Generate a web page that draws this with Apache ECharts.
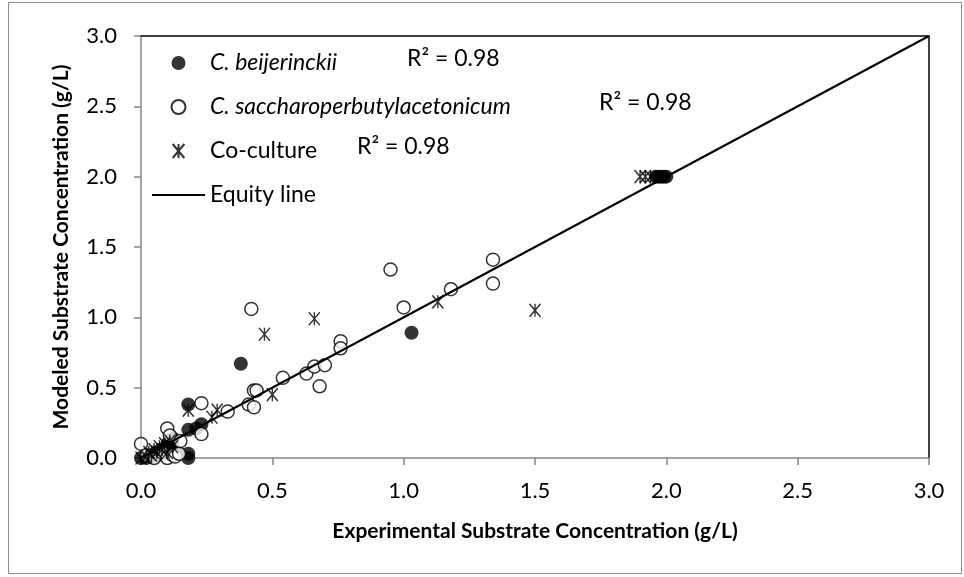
<!DOCTYPE html>
<html>
<head>
<meta charset="utf-8">
<title>Modeled vs experimental substrate concentration</title>
<script src="https://cdn.jsdelivr.net/npm/echarts@6/dist/echarts.min.js"></script>
<style>
  html, body { margin: 0; padding: 0; background: #fff; }
  #chart { width: 964px; height: 577px; }
</style>
</head>
<body>
<div id="chart"></div>
<script>
// Experimental (x) vs modeled (y) substrate concentration, g/L
const beijerinckiiPts = [
  [0.00, 0.00], [0.02, 0.00], [0.04, 0.01], [0.05, 0.03], [0.06, 0.02],
  [0.07, 0.05], [0.08, 0.03], [0.09, 0.07], [0.10, 0.05], [0.10, 0.10],
  [0.11, 0.10], [0.12, 0.12], [0.12, 0.14], [0.13, 0.05], [0.18, 0.00],
  [0.18, 0.03], [0.18, 0.20], [0.21, 0.21], [0.23, 0.24], [0.18, 0.38],
  [0.38, 0.67], [1.03, 0.89], [1.96, 2.00], [1.97, 2.00], [1.98, 2.00],
  [1.99, 2.00], [2.00, 2.00]
];
const saccharoPts = [
  [0.00, 0.10], [0.02, 0.02], [0.05, 0.00], [0.08, 0.04], [0.10, 0.00],
  [0.10, 0.21], [0.11, 0.16], [0.12, 0.02], [0.13, 0.01], [0.145, 0.03],
  [0.15, 0.12], [0.23, 0.39], [0.23, 0.17], [0.33, 0.33], [0.41, 0.38],
  [0.43, 0.36], [0.43, 0.48], [0.44, 0.48], [0.54, 0.57], [0.63, 0.60],
  [0.66, 0.65], [0.70, 0.66], [0.68, 0.51], [0.76, 0.83], [0.76, 0.78],
  [0.95, 1.34], [1.00, 1.07], [1.18, 1.20], [1.34, 1.41], [1.34, 1.24],
  [0.42, 1.06]
];
const cocularePts = [
  [0.00, 0.00], [0.02, 0.01], [0.03, 0.04], [0.04, 0.02], [0.05, 0.06],
  [0.06, 0.04], [0.07, 0.08], [0.08, 0.06], [0.09, 0.10], [0.10, 0.04],
  [0.11, 0.12], [0.12, 0.08], [0.18, 0.34], [0.27, 0.29], [0.29, 0.34],
  [0.47, 0.88], [0.50, 0.45], [0.66, 0.99], [1.13, 1.11], [1.50, 1.05],
  [1.90, 2.00], [1.92, 2.00], [1.94, 2.00]
];
const equityLine = [[0, 0], [3, 3]];

const seriesNames = ['C. beijerinckii', 'C. saccharoperbutylacetonicum', 'Co-culture', 'Equity line'];
const r2Labels = ['R\u00B2 = 0.98', 'R\u00B2 = 0.98', 'R\u00B2 = 0.98'];

const axisMin = 0, axisMax = 3, axisStep = 0.5;
const FONT = 'Lato';
const AXIS_GRAY = '#868686';

// asterisk-like marker: an X with a vertical stroke through it
const starPath = 'path://M0,0 L10,12 M10,0 L0,12 M5,0 L5,12';

const chart = echarts.init(document.getElementById('chart'), null, { renderer: 'canvas' });

const tickLabel = (margin) => ({
  color: '#000', fontFamily: FONT, fontSize: 22, margin: margin,
  formatter: v => v.toFixed(1)
});

const valueAxis = (extra) => Object.assign({
  type: 'value',
  min: axisMin, max: axisMax, interval: axisStep,
  splitLine: { show: false },
  axisLine: { show: true, onZero: false, lineStyle: { color: AXIS_GRAY, width: 1.5 } },
  axisTick: { show: true, inside: false, length: 7, lineStyle: { color: AXIS_GRAY, width: 1.5 } },
  nameTextStyle: { color: '#000', fontFamily: FONT, fontSize: 21, fontWeight: 'bold' },
  nameLocation: 'middle'
}, extra);

// black plot frame on the top and right sides
const frameAxis = (pos) => ({
  type: 'value', position: pos,
  min: axisMin, max: axisMax, interval: axisStep,
  splitLine: { show: false },
  axisLine: { show: true, onZero: false, lineStyle: { color: '#000', width: 1.5 } },
  axisTick: { show: false }, axisLabel: { show: false }
});

const legendText = { color: '#000', fontFamily: FONT, fontSize: 23, lineHeight: 24 };

const option = {
  animation: false,
  backgroundColor: '#fff',
  grid: { left: 141, right: 35, top: 36, bottom: 119, containLabel: false },
  xAxis: [
    valueAxis({ name: 'Experimental Substrate Concentration (g/L)', nameGap: 63, axisLabel: tickLabel(22) }),
    frameAxis('top')
  ],
  yAxis: [
    valueAxis({ name: 'Modeled Substrate Concentration (g/L)', nameGap: 69, axisLabel: tickLabel(24) }),
    frameAxis('right')
  ],
  legend: {
    show: true,
    orient: 'vertical',
    left: 146, top: 46,
    itemWidth: 53, itemHeight: 14, itemGap: 20,
    data: seriesNames,
    textStyle: Object.assign({}, legendText, {
      rich: { i: Object.assign({ fontStyle: 'italic' }, legendText) }
    }),
    formatter: name => name.startsWith('C.') ? '{i|' + name + '}' : name,
    selectedMode: false
  },
  graphic: [
    { type: 'rect', silent: true, z: -10,
      shape: { x: 8.5, y: 2.5, width: 953, height: 571 },
      style: { fill: 'none', stroke: '#8c8c8c', lineWidth: 1 } },
    { type: 'text', left: 407, top: 47, style: { text: r2Labels[0], fill: '#000', font: '23px ' + FONT } },
    { type: 'text', left: 599, top: 91, style: { text: r2Labels[1], fill: '#000', font: '23px ' + FONT } },
    { type: 'text', left: 357, top: 135, style: { text: r2Labels[2], fill: '#000', font: '23px ' + FONT } }
  ],
  series: [
    {
      name: seriesNames[0], type: 'scatter', data: beijerinckiiPts,
      symbol: 'circle', symbolSize: 14,
      itemStyle: { color: '#000' }, clip: false, z: 3
    },
    {
      name: seriesNames[1], type: 'scatter', data: saccharoPts,
      symbol: 'circle', symbolSize: 13,
      itemStyle: { color: '#fff', borderColor: '#000', borderWidth: 1.5 }, clip: false, z: 3
    },
    {
      name: seriesNames[2], type: 'scatter', data: cocularePts,
      symbol: starPath, symbolSize: [11, 13],
      itemStyle: { color: '#000', borderColor: '#000', borderWidth: 1.5 }, clip: false, z: 3
    },
    {
      name: seriesNames[3], type: 'line', data: equityLine,
      symbol: 'none', showSymbol: false,
      lineStyle: { color: '#000', width: 2 },
      // transparent item colour keeps the legend entry a plain line
      itemStyle: { color: 'rgba(0,0,0,0)' }, z: 4
    }
  ]
};

chart.setOption(option);
</script>
</body>
</html>
